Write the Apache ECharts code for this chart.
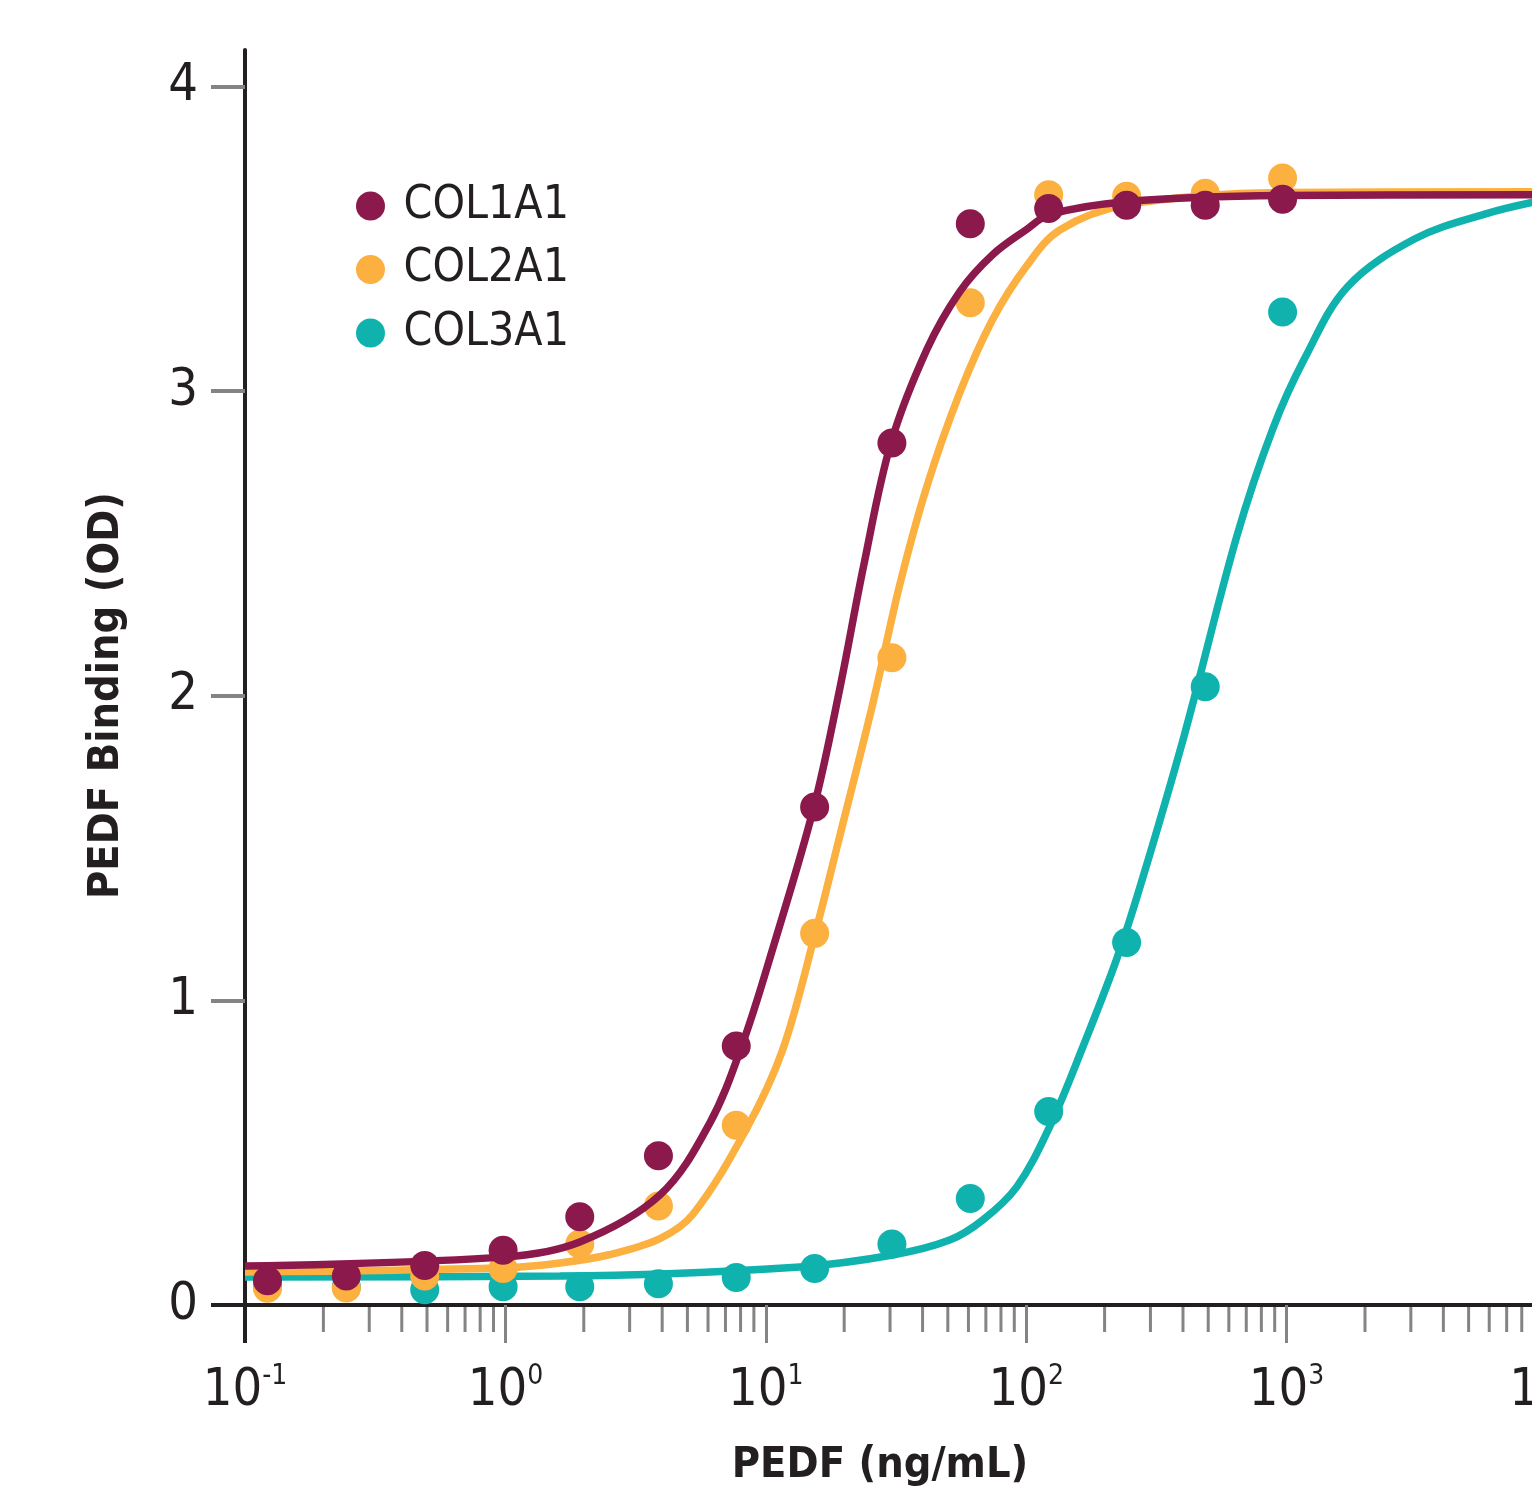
<!DOCTYPE html>
<html>
<head>
<meta charset="utf-8">
<script src="https://cdn.jsdelivr.net/npm/echarts@6/dist/echarts.min.js"></script>
<style>
html,body{margin:0;padding:0;background:#fff;}
#chart{width:1532px;height:1493px;}
</style>
</head>
<body>
<div id="chart"></div>
<script>
// ---- data ----
const doses = [0.122, 0.245, 0.49, 0.98, 1.93, 3.87, 7.7, 15.4, 30.5, 61, 122, 243, 487, 965];
const col1 = [0.08, 0.095, 0.13, 0.18, 0.29, 0.49, 0.85, 1.635, 2.83, 3.55, 3.60, 3.61, 3.61, 3.63];
const col2 = [0.055, 0.056, 0.095, 0.12, 0.20, 0.325, 0.59, 1.22, 2.125, 3.29, 3.645, 3.64, 3.65, 3.70];
const col3 = [0.06, 0.06, 0.05, 0.06, 0.06, 0.07, 0.09, 0.12, 0.20, 0.35, 0.635, 1.19, 2.03, 3.26];

// fitted curves
const fit1X = [0.1, 1.0, 1.93, 3.92, 6.1, 8.16, 10.6, 15.3, 19.2, 23.8, 30.2, 41.5, 55.6, 74.3, 100, 123, 243, 957, 10000];
const fit1Y = [0.128, 0.158, 0.207, 0.361, 0.598, 0.860, 1.166, 1.635, 2.020, 2.430, 2.828, 3.136, 3.327, 3.448, 3.530, 3.580, 3.622, 3.642, 3.645];
const fit2X = [0.1, 1.0, 1.62, 2.5, 3.92, 5.25, 8.45, 11.6, 15.5, 19.2, 25.8, 32.7, 41.5, 55.6, 74.3, 100, 135, 243, 957, 10000];
const fit2Y = [0.108, 0.122, 0.138, 0.165, 0.218, 0.298, 0.580, 0.837, 1.222, 1.537, 1.977, 2.365, 2.686, 2.995, 3.235, 3.409, 3.530, 3.612, 3.652, 3.655];
const fit3X = [0.1, 1.62, 13.5, 30.7, 50.8, 68.1, 92, 123, 165, 222, 273, 403, 643, 883, 1172, 1714, 3126, 5860, 10000];
const fit3Y = [0.092, 0.095, 0.125, 0.164, 0.213, 0.279, 0.388, 0.585, 0.847, 1.133, 1.370, 1.865, 2.522, 2.874, 3.107, 3.343, 3.501, 3.583, 3.63];

const seriesNames = ['COL1A1', 'COL2A1', 'COL3A1'];
const colors = ['#8B194B', '#FBB040', '#10B2AE'];
const yTicks = [0, 1, 2, 3, 4];
const xTickExponents = {0.1: '-1', 1: '0', 10: '1', 100: '2', 1000: '3', 10000: '4'};
const minorTicks = [0.2,0.3,0.4,0.5,0.6,0.7,0.8,0.9, 2,3,4,5,6,7,8,9, 20,30,40,50,60,70,80,90, 200,300,400,500,600,700,800,900, 2000,3000,4000,5000,6000,7000,8000,9000];

const FONT = "'Liberation Sans Narrow', 'Arial Narrow', 'DejaVu Sans Condensed', sans-serif";
const TEXT = '#231f20';
const TICK = '#848484';

const zip = (xs, ys) => xs.map((x, i) => [x, ys[i]]);

const chart = echarts.init(document.getElementById('chart'), null, {renderer: 'canvas'});

const lineCommon = {type: 'line', smooth: 0.35, symbol: 'none', silent: true};

const option = {
  animation: false,
  backgroundColor: '#fff',
  grid: {left: 245, right: -15, top: 50, bottom: 188, containLabel: false, outerBoundsMode: 'none'},
  legend: {
    data: seriesNames,
    orient: 'vertical',
    left: 351, top: 176,
    icon: 'circle',
    itemWidth: 56, itemHeight: 29,
    itemGap: 13.5,
    selectedMode: false,
    textStyle: {fontFamily: FONT, fontSize: 46, lineHeight: 50, color: TEXT}
  },
  xAxis: {
    type: 'log', logBase: 10, min: 0.1, max: 10000,
    name: 'PEDF (ng/mL)', nameLocation: 'middle', nameGap: 139,
    nameTextStyle: {fontFamily: FONT, fontSize: 43, fontWeight: 'bold', color: TEXT, padding: [0, 32, 0, 0]},
    axisLine: {lineStyle: {color: TEXT, width: 4}},
    axisTick: {length: 38, lineStyle: {color: TICK, width: 3}},
    minorTick: {show: false},
    splitLine: {show: false},
    axisLabel: {
      margin: 58,
      formatter: v => '{b|10}{s|' + (xTickExponents[v] !== undefined ? xTickExponents[v] : '') + '}',
      rich: {
        b: {fontFamily: FONT, fontSize: 52, lineHeight: 56, color: TEXT},
        s: {fontFamily: FONT, fontSize: 28, lineHeight: 28, color: TEXT, verticalAlign: 'top'}
      }
    }
  },
  yAxis: {
    type: 'value', min: 0, max: 4.12,
    name: 'PEDF Binding (OD)', nameLocation: 'middle', nameGap: 117,
    nameTextStyle: {fontFamily: FONT, fontSize: 43, fontWeight: 'bold', color: TEXT, padding: [0, 36, 0, 0]},
    axisLine: {show: true, lineStyle: {color: TEXT, width: 4}},
    axisTick: {show: true, length: 34, customValues: yTicks, lineStyle: {color: TICK, width: 4}},
    axisLabel: {margin: 47, customValues: yTicks, fontFamily: FONT, fontSize: 52, color: TEXT},
    splitLine: {show: false}
  },
  series: [
    // minor ticks on the log axis
    {
      type: 'custom', silent: true, clip: false, z: 3,
      data: minorTicks.map(v => [v, 0]),
      renderItem: (params, api) => {
        const p = api.coord([api.value(0), 0]);
        return {type: 'line', shape: {x1: p[0], y1: p[1] + 2, x2: p[0], y2: p[1] + 27},
                style: {stroke: TICK, lineWidth: 3}};
      }
    },
    // axis extensions at the origin (y axis below, x axis to the left)
    {
      type: 'custom', silent: true, clip: false, z: 4,
      data: [[0.1, 0]],
      renderItem: (params, api) => {
        const p = api.coord([api.value(0), api.value(1)]);
        return {type: 'group', children: [
          {type: 'line', shape: {x1: p[0], y1: p[1], x2: p[0], y2: p[1] + 38}, style: {stroke: TEXT, lineWidth: 4}},
          {type: 'line', shape: {x1: p[0] - 34, y1: p[1], x2: p[0], y2: p[1]}, style: {stroke: TEXT, lineWidth: 4}}
        ]};
      }
    },
    Object.assign({name: 'COL3A1 fit', data: zip(fit3X, fit3Y), z: 5,
     lineStyle: {color: colors[2], width: 7.5}, itemStyle: {color: colors[2]}}, lineCommon),
    {name: 'COL3A1', type: 'scatter', data: zip(doses, col3), symbolSize: 29, z: 6,
     itemStyle: {color: colors[2], opacity: 1}, silent: true},
    Object.assign({name: 'COL2A1 fit', data: zip(fit2X, fit2Y), z: 7,
     lineStyle: {color: colors[1], width: 7.5}, itemStyle: {color: colors[1]}}, lineCommon),
    {name: 'COL2A1', type: 'scatter', data: zip(doses, col2), symbolSize: 29, z: 8,
     itemStyle: {color: colors[1], opacity: 1}, silent: true},
    Object.assign({name: 'COL1A1 fit', data: zip(fit1X, fit1Y), z: 9,
     lineStyle: {color: colors[0], width: 7.5}, itemStyle: {color: colors[0]}}, lineCommon),
    {name: 'COL1A1', type: 'scatter', data: zip(doses, col1), symbolSize: 29, z: 10,
     itemStyle: {color: colors[0], opacity: 1}, silent: true}
  ]
};
chart.setOption(option);
</script>
</body>
</html>
